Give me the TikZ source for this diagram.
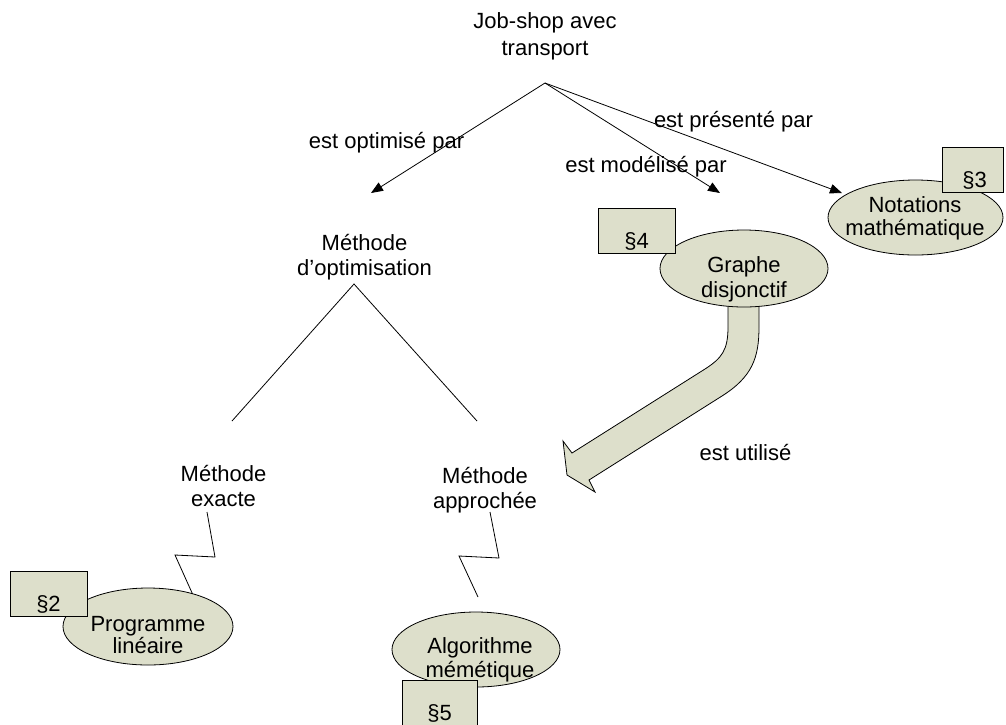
\documentclass[tikz,border=0pt]{standalone}
\usepackage{fontspec}
\setmainfont{Liberation Sans}
\usetikzlibrary{arrows.meta,shapes.geometric}
\definecolor{khaki}{RGB}{221,223,203}
\begin{document}
\begin{tikzpicture}[x=1pt,y=-1pt,
  txt/.style={font=\fontsize{22}{25}\selectfont, align=center, inner sep=0pt},
  oval/.style={ellipse, draw=black, line width=0.8pt, fill=khaki, inner sep=0pt},
  secbox/.style={rectangle, draw=black, line width=0.8pt, fill=khaki, inner sep=0pt,
                 minimum width=77pt, minimum height=45pt},
  seclbl/.style={font=\fontsize{22}{25}\selectfont, anchor=base, inner sep=0pt, yshift=5pt},
  rel/.style={line width=0.8pt, -{Triangle[length=12pt,width=9.5pt]}},
  link/.style={line width=0.8pt},
  bigarrow/.style={draw=black, line width=0.8pt, fill=khaki, line join=miter}
]
\useasboundingbox (0,0) rectangle (1006,724);

% top concept and its three relations
\node[txt] (jobshop) at (545,36.5) {\strut Job-shop avec\\[2pt]\strut transport};
\coordinate (apex) at (545,83);
\coordinate (tipopt) at (371,193);
\coordinate (tipmod) at (720,193);
\coordinate (tippres) at (842,193);
\draw[rel] (apex) -- (tipopt);
\draw[rel] (apex) -- (tipmod);
\draw[rel] (apex) -- (tippres);
\node[txt] (lopt) at (386.5,143) {\strut est optimisé par};
\node[txt] (lmod) at (646,167) {\strut est modélisé par};
\node[txt] (lpres) at (733.5,122) {\strut est présenté par};

% optimisation methods
\node[txt] (methopt) at (364.5,257.5) {\strut Méthode\\\strut d’optimisation};
\coordinate (optapex) at (354,284);
\coordinate (optleft) at (232,421);
\coordinate (optright) at (477,421);
\draw[link] (optleft) -- (optapex) -- (optright);
\node[txt] (exacte) at (223.5,488.5) {\strut Méthode\\\strut exacte};
\node[txt] (approchee) at (485,490.5) {\strut Méthode\\\strut approchée};

% zigzag links down to the leaves
\coordinate (zx1) at (207,512);
\coordinate (zx2) at (193,595);
\draw[link] (zx1) -- (215,557) -- (175,555) -- (zx2);
\coordinate (za1) at (490,512);
\coordinate (za2) at (478,597);
\draw[link] (za1) -- (499,558) -- (459,556) -- (za2);

% wide curved arrow from the disjunctive graph
\draw[bigarrow] (728,300) -- (728,327) .. controls (728,350) and (722,358) .. (705,369)
  -- (572,453) -- (563,441) -- (567,475) -- (595,492) -- (589,480)
  -- (722,396) .. controls (752,377) and (759,358) .. (759,327) -- (759,300) -- cycle;
\node[txt] (utilise) at (745.5,455) {\strut est utilisé};

% leaf concepts
\node[oval, minimum width=168pt, minimum height=77pt] (graphe) at (744,268.5) {};
\node[txt] (graphet) at (744,279.5) {\strut Graphe\\\strut disjonctif};
\node[oval, minimum width=175pt, minimum height=75pt] (notations) at (915.5,217.5) {};
\node[txt] (notationst) at (915,218.5) {\strut Notations\\[-2pt]\strut mathématique};
\node[oval, minimum width=170pt, minimum height=77pt] (programme) at (148,626.5) {};
\node[txt] (programmet) at (148,637) {\strut Programme\\[-3pt]\strut linéaire};
\node[oval, minimum width=168pt, minimum height=75pt] (algo) at (476,649.5) {};
\node[txt] (algot) at (480,660) {\strut Algorithme\\[-1pt]\strut mémétique};

% section references
\node[secbox, label={[seclbl]south:§2}] (s2) at (48.5,593.5) {};
\node[secbox, minimum width=61pt, label={[seclbl, xshift=2pt]south:§3}] (s3) at (972.5,169.5) {};
\node[secbox, label={[seclbl]south:§4}] (s4) at (636.5,230.5) {};
\node[secbox, minimum width=75pt, label={[seclbl]south:§5}] (s5) at (439.5,702.5) {};
\end{tikzpicture}
\end{document}
